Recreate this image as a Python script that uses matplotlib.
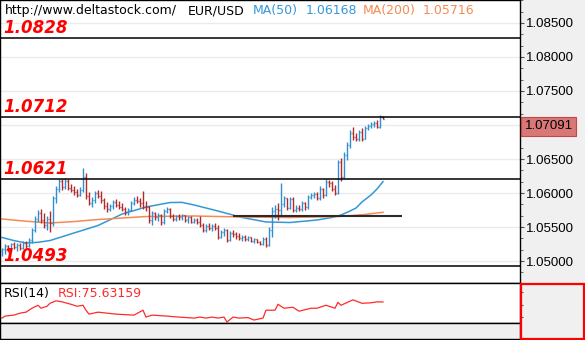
import matplotlib
matplotlib.use("Agg")
import matplotlib.pyplot as plt
from matplotlib.patches import Rectangle
from matplotlib.ticker import MultipleLocator, FixedLocator
import numpy as np

# EUR/USD hourly bars
opens = [1.0515, 1.0517, 1.0522, 1.0516, 1.0525, 1.0520, 1.0523, 1.0519, 1.0527, 1.0522,
         1.0531, 1.0545, 1.0562, 1.0571, 1.0560, 1.0553, 1.0562, 1.0556, 1.0592, 1.0606,
         1.0617, 1.0609, 1.0618, 1.0607, 1.0605, 1.0601, 1.0597, 1.0605, 1.0624, 1.0595,
         1.0586, 1.0590, 1.0600, 1.0596, 1.0589, 1.0581, 1.0576, 1.0581, 1.0587, 1.0583,
         1.0580, 1.0577, 1.0572, 1.0575, 1.0585, 1.0590, 1.0588, 1.0585, 1.0580, 1.0579,
         1.0560, 1.0570, 1.0564, 1.0567, 1.0557, 1.0573, 1.0576, 1.0566, 1.0562, 1.0566,
         1.0564, 1.0567, 1.0561, 1.0564, 1.0558, 1.0560, 1.0557, 1.0553, 1.0546, 1.0551,
         1.0549, 1.0552, 1.0548, 1.0536, 1.0543, 1.0545, 1.0531, 1.0541, 1.0539, 1.0537,
         1.0534, 1.0535, 1.0532, 1.0535, 1.0530, 1.0532, 1.0528, 1.0525, 1.0533, 1.0524,
         1.0546, 1.0574, 1.0577, 1.0575, 1.0584, 1.0592, 1.0578, 1.0591, 1.0575, 1.0578,
         1.0576, 1.0585, 1.0579, 1.0594, 1.0597, 1.0599, 1.0593, 1.0606, 1.0597, 1.0616,
         1.0615, 1.0606, 1.0600, 1.0645, 1.0624, 1.0656, 1.0670, 1.0688, 1.0682, 1.0679,
         1.0690, 1.0680, 1.0695, 1.0699, 1.0701, 1.0703, 1.0697, 1.0712]
highs = [1.0519, 1.0525, 1.0524, 1.0527, 1.0528, 1.0526, 1.0527, 1.0529, 1.0530, 1.0534,
         1.0548, 1.0566, 1.0575, 1.0576, 1.0570, 1.0566, 1.0574, 1.0596, 1.0610, 1.0621,
         1.0620, 1.0622, 1.0620, 1.0613, 1.0611, 1.0606, 1.0609, 1.0637, 1.0630, 1.0601,
         1.0594, 1.0603, 1.0604, 1.0603, 1.0592, 1.0587, 1.0584, 1.0590, 1.0591, 1.0588,
         1.0585, 1.0580, 1.0578, 1.0588, 1.0594, 1.0596, 1.0593, 1.0603, 1.0588, 1.0581,
         1.0574, 1.0572, 1.0570, 1.0569, 1.0577, 1.0580, 1.0578, 1.0569, 1.0568, 1.0569,
         1.0569, 1.0568, 1.0566, 1.0566, 1.0563, 1.0563, 1.0566, 1.0556, 1.0554, 1.0556,
         1.0554, 1.0556, 1.0553, 1.0546, 1.0548, 1.0547, 1.0544, 1.0545, 1.0542, 1.0541,
         1.0538, 1.0538, 1.0537, 1.0536, 1.0534, 1.0533, 1.0530, 1.0536, 1.0535, 1.0550,
         1.0580, 1.0582, 1.0586, 1.0614, 1.0595, 1.0593, 1.0594, 1.0594, 1.0582, 1.0583,
         1.0588, 1.0587, 1.0597, 1.0600, 1.0601, 1.0601, 1.0611, 1.0607, 1.0620, 1.0619,
         1.0617, 1.0612, 1.0648, 1.0652, 1.0661, 1.0675, 1.0693, 1.0697, 1.0688, 1.0693,
         1.0695, 1.0698, 1.0702, 1.0705, 1.0706, 1.0707, 1.0714, 1.0713]
lows = [1.0508, 1.0511, 1.0513, 1.0514, 1.0517, 1.0515, 1.0516, 1.0517, 1.0519, 1.0520,
        1.0527, 1.0542, 1.0558, 1.0556, 1.0548, 1.0546, 1.0543, 1.0552, 1.0586, 1.0601,
        1.0605, 1.0606, 1.0604, 1.0601, 1.0597, 1.0594, 1.0595, 1.0602, 1.0591, 1.0582,
        1.0579, 1.0586, 1.0592, 1.0585, 1.0577, 1.0572, 1.0573, 1.0577, 1.0579, 1.0576,
        1.0574, 1.0568, 1.0567, 1.0573, 1.0582, 1.0585, 1.0580, 1.0576, 1.0574, 1.0556,
        1.0553, 1.0560, 1.0559, 1.0553, 1.0555, 1.0570, 1.0563, 1.0559, 1.0559, 1.0561,
        1.0560, 1.0558, 1.0556, 1.0556, 1.0556, 1.0554, 1.0550, 1.0543, 1.0542, 1.0545,
        1.0544, 1.0545, 1.0533, 1.0534, 1.0537, 1.0528, 1.0529, 1.0536, 1.0533, 1.0531,
        1.0530, 1.0530, 1.0529, 1.0528, 1.0527, 1.0526, 1.0523, 1.0524, 1.0520, 1.0522,
        1.0535, 1.0563, 1.0560, 1.0568, 1.0580, 1.0575, 1.0577, 1.0572, 1.0572, 1.0573,
        1.0574, 1.0575, 1.0577, 1.0591, 1.0592, 1.0590, 1.0589, 1.0593, 1.0595, 1.0609,
        1.0603, 1.0597, 1.0598, 1.0617, 1.0622, 1.0648, 1.0666, 1.0678, 1.0676, 1.0677,
        1.0676, 1.0679, 1.0692, 1.0695, 1.0697, 1.0695, 1.0696, 1.07085]
closes = [1.0517, 1.0522, 1.0516, 1.0525, 1.0520, 1.0523, 1.0519, 1.0527, 1.0522, 1.0531,
          1.0545, 1.0562, 1.0571, 1.0560, 1.0553, 1.0562, 1.0556, 1.0592, 1.0606, 1.0617,
          1.0609, 1.0618, 1.0607, 1.0605, 1.0601, 1.0597, 1.0605, 1.0624, 1.0595, 1.0586,
          1.0590, 1.0600, 1.0596, 1.0589, 1.0581, 1.0576, 1.0581, 1.0587, 1.0583, 1.0580,
          1.0577, 1.0572, 1.0575, 1.0585, 1.0590, 1.0588, 1.0585, 1.0580, 1.0579, 1.0560,
          1.0570, 1.0564, 1.0567, 1.0557, 1.0573, 1.0576, 1.0566, 1.0562, 1.0566, 1.0564,
          1.0567, 1.0561, 1.0564, 1.0558, 1.0560, 1.0557, 1.0553, 1.0546, 1.0551, 1.0549,
          1.0552, 1.0548, 1.0536, 1.0543, 1.0545, 1.0531, 1.0541, 1.0539, 1.0537, 1.0534,
          1.0535, 1.0532, 1.0535, 1.0530, 1.0532, 1.0528, 1.0525, 1.0533, 1.0524, 1.0546,
          1.0574, 1.0577, 1.0575, 1.0584, 1.0592, 1.0578, 1.0591, 1.0575, 1.0578, 1.0576,
          1.0585, 1.0579, 1.0594, 1.0597, 1.0599, 1.0593, 1.0606, 1.0597, 1.0616, 1.0615,
          1.0606, 1.0600, 1.0645, 1.0624, 1.0656, 1.0670, 1.0688, 1.0682, 1.0679, 1.0690,
          1.0680, 1.0695, 1.0699, 1.0701, 1.0703, 1.0697, 1.0712, 1.07091]

# moving averages, sampled along the bars
ma50_idx = [0, 4, 8, 12, 16, 24, 32, 40, 48, 56, 60, 64, 72, 80, 88, 96, 105, 110,
            113, 116, 118, 120, 123, 125, 127]
ma50 = [1.05346, 1.05300, 1.05265, 1.05275, 1.05301, 1.05412, 1.05522, 1.05690, 1.05794,
        1.05860, 1.05862, 1.05824, 1.05735, 1.05640, 1.05574, 1.05566, 1.05603, 1.05640,
        1.05676, 1.05735, 1.05779, 1.05868, 1.05971, 1.06059, 1.06168]
ma200_idx = [0, 8, 16, 24, 32, 48, 64, 80, 96, 112, 120, 127]
ma200 = [1.05618, 1.05585, 1.05559, 1.05580, 1.05610, 1.05654, 1.05662, 1.05647, 1.05640,
         1.05654, 1.05680, 1.05716]

# RSI(14)
rsi_idx = [0, 1, 4, 6, 8, 10, 12, 13, 15, 16, 18, 20, 23, 25, 27, 28, 29, 32, 35, 38,
           44, 47, 48, 50, 55, 59, 64, 66, 68, 70, 72, 74, 75, 77, 79, 82, 84, 87, 88, 91,
           92, 94, 97, 99, 103, 105, 108, 111, 112, 113, 117, 120, 123, 125, 127]
rsi = [43, 47, 49, 53, 55, 63, 69, 63, 67, 73, 78, 76, 71, 67, 69, 59, 51, 55, 53, 51,
       49, 59, 45, 49, 47, 45, 43, 45, 43, 45, 43, 45, 35, 45, 43, 44, 39, 43, 59, 59,
       71, 63, 65, 57, 63, 63, 69, 63, 75, 69, 80, 73, 74, 76, 75.63159]

levels = [1.0828, 1.0712, 1.0621, 1.0493]
flat_level = 1.05666
flat_span = (77, 133.3)

up_col = "#2f8fd0"
dn_col = "#b02a2a"
ma50_col = "#3398d8"
ma200_col = "#f58a52"
grey_bg = "#f0f0f0"

W, H = 585, 340
fig = plt.figure(figsize=(W / 100, H / 100), dpi=100, facecolor=grey_bg)

ax = fig.add_axes([0, 57 / H, 520 / W, 283 / H])
ax_rsi = fig.add_axes([0, 17 / H, 520 / W, 40 / H])
ax_foot = fig.add_axes([0, 1 / H, 520 / W, 16 / H])

x = np.arange(len(closes))
o = np.array(opens); h = np.array(highs); l = np.array(lows); c = np.array(closes)
cols = np.where(c >= o, up_col, dn_col)

# OHLC bars
tick = 0.34
ax.vlines(x, l, h, colors=cols, lw=1.0, zorder=3)
ax.hlines(o, x - tick, x, colors=cols, lw=1.0, zorder=3)
ax.hlines(c, x, x + tick, colors=cols, lw=1.0, zorder=3)

ax.plot(ma50_idx, ma50, color=ma50_col, lw=1.1, zorder=2)
ax.plot(ma200_idx, ma200, color=ma200_col, lw=1.1, zorder=2)
ax.hlines(flat_level, *flat_span, colors="#2a2a2a", lw=1.5, zorder=4)

for lv in levels:
    ax.axhline(lv, color="black", lw=1.1, zorder=4)
    ax.annotate(f"{lv:.4f}", xy=(3 / 520, lv), xycoords=("axes fraction", "data"),
                xytext=(0, 3.5), textcoords="offset points", ha="left", va="baseline",
                color="#ff0000", fontsize=12, fontweight="bold", fontstyle="italic",
                family="DejaVu Sans", zorder=6)

ax.set_xlim(-2 / 3, -2 / 3 + 520 / 3)
ax.set_ylim(1.046765, 1.088382)
ax.yaxis.set_major_locator(MultipleLocator(0.005))
ax.yaxis.set_minor_locator(MultipleLocator(0.005 / 3))
ax.yaxis.set_major_formatter(plt.FuncFormatter(lambda v, p: f"{v:.5f}"))
ax.yaxis.tick_right()
ax.tick_params(axis="y", which="major", length=3, pad=1.5, color="#555555",
               labelsize=9.5, labelcolor="black")
ax.tick_params(axis="y", which="minor", length=2, color="#555555")
for lab in ax.get_yticklabels():
    lab.set_family("Liberation Sans")
ax.set_xticks([])
ax.grid(axis="y", which="major", color="#ebebeb", lw=1.0, zorder=0)
for s in ax.spines.values():
    s.set_color("black")
    s.set_linewidth(1.0)

# header line
ty = 1 - 14 / 283
header = [(5, "http://www.deltastock.com/", "black"), (188, "EUR/USD", "black"),
          (253, "MA(50)", ma50_col), (306, f"{ma50[-1]:.5f}", ma50_col),
          (363, "MA(200)", ma200_col), (423, f"{ma200[-1]:.5f}", ma200_col)]
for px, s, col in header:
    ax.text(px / 520, ty, s, transform=ax.transAxes, ha="left", va="baseline",
            color=col, fontsize=9, family="DejaVu Sans", zorder=6)

# last price tag
ax.annotate(f"{closes[-1]:.5f}", xy=(1.0, closes[-1]), xycoords=("axes fraction", "data"),
            xytext=(3.4, -1.2), textcoords="offset points", ha="left", va="top",
            fontsize=9.5, family="Liberation Sans", color="black", annotation_clip=False,
            bbox=dict(boxstyle="square,pad=0.25", fc="#d97777", ec="#c04848", lw=0.8),
            zorder=7)

# RSI panel
ax_rsi.plot(rsi_idx, rsi, color="#ff2a2a", lw=0.9)
ax_rsi.set_xlim(ax.get_xlim())
ax_rsi.set_ylim(33.0, 114.2)
ax_rsi.set_xticks([])
ax_rsi.yaxis.tick_right()
ax_rsi.yaxis.set_major_locator(FixedLocator([45, 70, 95]))
ax_rsi.set_yticklabels([])
ax_rsi.tick_params(axis="y", length=2, color="#555555")
ax_rsi.text(4 / 520, 1 - 14 / 40, "RSI(14)", transform=ax_rsi.transAxes, ha="left",
            va="baseline", fontsize=9, family="DejaVu Sans", color="black")
ax_rsi.text(58 / 520, 1 - 14 / 40, f"RSI:{rsi[-1]:.5f}", transform=ax_rsi.transAxes,
            ha="left", va="baseline", fontsize=9, family="DejaVu Sans", color="#ff2a2a")
for s in ax_rsi.spines.values():
    s.set_color("black")
    s.set_linewidth(1.0)

ax_foot.set_facecolor(grey_bg)
ax_foot.set_xticks([])
ax_foot.set_yticks([])
for s in ax_foot.spines.values():
    s.set_color("black")
    s.set_linewidth(1.0)

fig.patches.append(Rectangle((521 / W, 1.5 / H), 62.5 / W, 54.5 / H, transform=fig.transFigure,
                             fill=False, ec="#ff0000", lw=1.6))

fig.savefig("out.png", dpi=100, facecolor=grey_bg)
